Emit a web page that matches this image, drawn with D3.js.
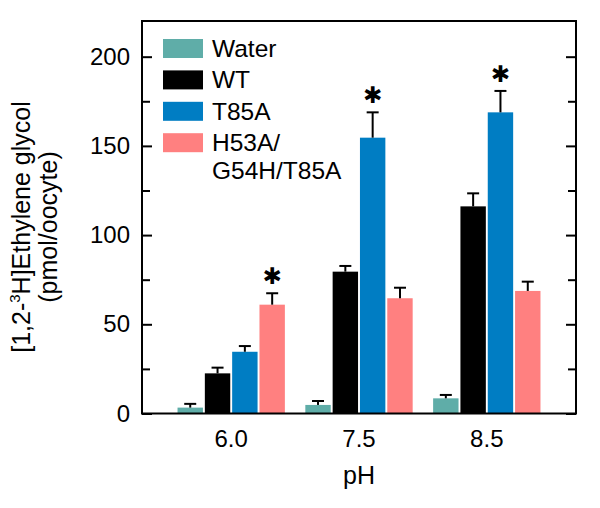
<!DOCTYPE html>
<html>
<head>
<meta charset="utf-8">
<script src="https://cdn.jsdelivr.net/npm/d3@7"></script>
<style>
  html, body { margin: 0; padding: 0; background: #fff; }
  svg { display: block; }
  text { font-family: "Liberation Sans", Arial, Helvetica, sans-serif; fill: #000; }
</style>
</head>
<body>
<svg id="chart" width="600" height="508"></svg>
<script>
// ---- data ----
const categories = ["6.0", "7.5", "8.5"];
const seriesNames = ["Water", "WT", "T85A", "H53A/G54H/T85A"];
const legendLines = [["Water"], ["WT"], ["T85A"], ["H53A/", "G54H/T85A"]];
const seriesColors = ["#5fada8", "#000000", "#007dc3", "#ff8080"];
const waterValues = [3.3, 4.8, 8.5];
const waterErrors = [2.1, 2.2, 1.9];
const wtValues = [22.5, 79.5, 116.1];
const wtErrors = [3.2, 3.2, 7.3];
const t85aValues = [34.6, 154.6, 168.8];
const t85aErrors = [3.2, 14.2, 12.0];
const h53aValues = [61.0, 64.6, 68.7];
const h53aErrors = [6.4, 5.9, 5.2];
const significant = [[false, false, false, true], [false, false, true, false], [false, false, true, false]];
const yMajorTicks = [0, 50, 100, 150, 200];
const yMinorTicks = [25, 75, 125, 175];
const yTitleLine1 = ["[1,2-", "3", "H]Ethylene glycol"];
const yTitleLine2 = "(pmol/oocyte)";
const xTitle = "pH";
const sigMark = "\u2731";

const values = [waterValues, wtValues, t85aValues, h53aValues];
const errors = [waterErrors, wtErrors, t85aErrors, h53aErrors];

const rows = [];
categories.forEach((c, ci) => {
  seriesNames.forEach((s, si) => {
    rows.push({cat: c, ci, series: s, si, v: values[si][ci], e: errors[si][ci], sig: significant[ci][si]});
  });
});

// ---- layout ----
const svg = d3.select("#chart");
const L = 142, R = 576, T = 21, B = 413.5;

const x = d3.scaleBand().domain(categories).range([L, R]).paddingInner(0.16).paddingOuter(0.278);
const xs = d3.scaleBand().domain(seriesNames).range([0, x.bandwidth()]).paddingInner(0.07);
const y = d3.scaleLinear().domain([0, 220]).range([B, T]);

const FS = 24, FT = 25, FL = 24.5;
const FF = '"Liberation Sans", Arial, sans-serif';

// bars
svg.append("g").selectAll("rect").data(rows).join("rect")
  .attr("x", d => x(d.cat) + xs(d.series))
  .attr("y", d => y(d.v))
  .attr("width", xs.bandwidth())
  .attr("height", d => y(0) - y(d.v))
  .attr("fill", d => seriesColors[d.si]);

// error bars
const eg = svg.append("g").attr("stroke", "#000").attr("stroke-width", 2);
rows.forEach(d => {
  const cx = x(d.cat) + xs(d.series) + xs.bandwidth() / 2;
  eg.append("line").attr("x1", cx).attr("x2", cx).attr("y1", y(d.v)).attr("y2", y(d.v + d.e));
  eg.append("line").attr("x1", cx - 6).attr("x2", cx + 6).attr("y1", y(d.v + d.e)).attr("y2", y(d.v + d.e));
});

// significance asterisks
svg.append("g").selectAll("text").data(rows.filter(d => d.sig)).join("text")
  .attr("x", d => x(d.cat) + xs(d.series) + xs.bandwidth() / 2)
  .attr("y", d => y(d.v + d.e) - 17)
  .attr("text-anchor", "middle")
  .attr("dominant-baseline", "central")
  .style("font-family", '"DejaVu Sans", sans-serif')
  .style("font-size", "23px")
  .text(sigMark);

// axes: inward ticks
const axisStyle = g => {
  g.select(".domain").remove();
  g.selectAll(".tick line").attr("stroke", "#000").attr("stroke-width", 2);
};
svg.append("g").attr("transform", `translate(${L},0)`)
  .call(d3.axisLeft(y).tickValues(yMajorTicks).tickSize(-10).tickPadding(12).tickFormat(d3.format("d")))
  .call(axisStyle)
  .call(g => g.selectAll("text").style("font-size", FS + "px")
    .style("font-family", FF).attr("fill", "#000"));
svg.append("g").attr("transform", `translate(${L},0)`)
  .call(d3.axisLeft(y).tickValues(yMinorTicks).tickSize(-8).tickFormat(""))
  .call(axisStyle);
svg.append("g").attr("transform", `translate(${R},0)`)
  .call(d3.axisRight(y).tickValues(yMajorTicks).tickSize(-10).tickFormat(""))
  .call(axisStyle);
svg.append("g").attr("transform", `translate(${R},0)`)
  .call(d3.axisRight(y).tickValues(yMinorTicks).tickSize(-8).tickFormat(""))
  .call(axisStyle);

// x axis labels
svg.append("g").attr("transform", `translate(0,${B})`)
  .call(d3.axisBottom(x).tickSize(0).tickPadding(0))
  .call(g => g.select(".domain").remove())
  .call(g => g.selectAll("text").attr("y", 0).attr("dy", null).attr("transform", "translate(0,33.5)")
    .style("font-size", FS + "px").style("font-family", FF).attr("fill", "#000"));

// frame
svg.append("rect").attr("x", L).attr("y", T).attr("width", R - L).attr("height", B - T)
  .attr("fill", "none").attr("stroke", "#000").attr("stroke-width", 2);

// x title
svg.append("text").attr("x", (L + R) / 2).attr("y", 484).attr("text-anchor", "middle")
  .style("font-size", FT + "px").text(xTitle);

// y title
const yt = svg.append("g").attr("transform", "translate(0,227) rotate(-90)");
const t1 = yt.append("text").attr("x", 0).attr("y", 30).attr("text-anchor", "middle").style("font-size", FT + "px");
t1.append("tspan").text(yTitleLine1[0]);
t1.append("tspan").attr("dy", -10).style("font-size", "15px").text(yTitleLine1[1]);
t1.append("tspan").attr("dy", 10).text(yTitleLine1[2]);
yt.append("text").attr("x", 0).attr("y", 57).attr("text-anchor", "middle").style("font-size", FT + "px").text(yTitleLine2);

// legend
const lg = svg.append("g");
legendLines.forEach((lines, i) => {
  const top = 39 + i * 31.4;
  lg.append("rect").attr("x", 163).attr("y", top).attr("width", 40).attr("height", 19).attr("fill", seriesColors[i]);
  const t = lg.append("text").attr("x", 212).attr("y", top + 18).style("font-size", FL + "px");
  lines.forEach((ln, j) => {
    t.append("tspan").attr("x", 212).attr("dy", j === 0 ? 0 : 27.5).text(ln);
  });
});
</script>
</body>
</html>
